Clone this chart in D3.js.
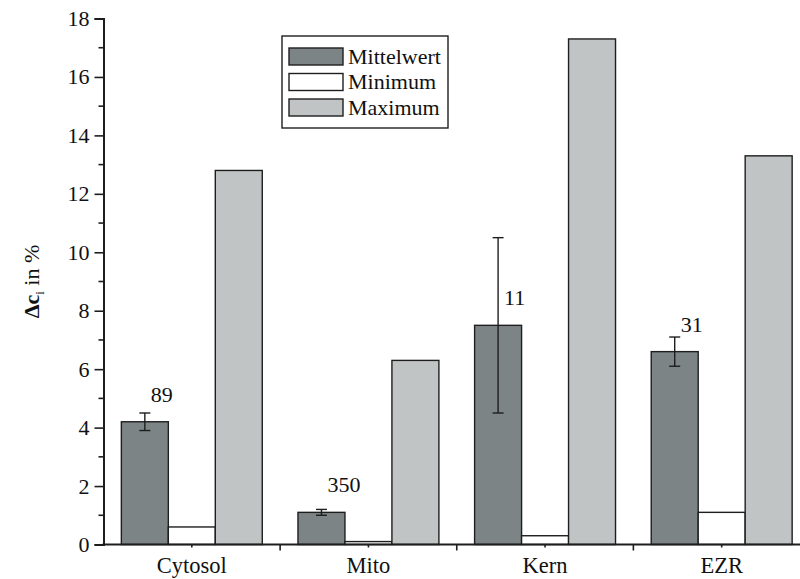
<!DOCTYPE html>
<html>
<head>
<meta charset="utf-8">
<script src="https://cdn.jsdelivr.net/npm/d3@7"></script>
</head>
<body style="margin:0">
<svg id="fig" width="800" height="579"></svg>
<script>
// Compartments and the three statistics shown for each
const categories = ["Cytosol", "Mito", "Kern", "EZR"];
const seriesNames = ["Mittelwert", "Minimum", "Maximum"];
const meanValues = [4.2, 1.1, 7.5, 6.6];
const meanErrors = [0.3, 0.1, 3.0, 0.5];
const minValues = [0.6, 0.1, 0.3, 1.1];
const maxValues = [12.8, 6.3, 17.3, 13.3];
const sampleCounts = ["89", "350", "11", "31"];
const yTicks = [0, 2, 4, 6, 8, 10, 12, 14, 16, 18];

const seriesColors = { "Mittelwert": "#7d8485", "Minimum": "#ffffff", "Maximum": "#c1c4c5" };
const stroke = "#1e1e1e";
const serif = t => t.style("font-family", '"Liberation Serif", "Times New Roman", Tinos', "important");

const svg = d3.select("#fig");
const x0 = 103.5, yTop = 18.5, yBottom = 544.5;

const y = d3.scaleLinear().domain([0, 18]).range([yBottom, yTop]);
const x = d3.scaleBand().domain(categories).range([x0, 810]).padding(0);
const xs = d3.scaleBand().domain(seriesNames).range([0, x.bandwidth()])
  .paddingInner(0).paddingOuter(0.38);

const rows = categories.map((c, i) => ({
  cat: c,
  values: { "Mittelwert": meanValues[i], "Minimum": minValues[i], "Maximum": maxValues[i] },
  err: meanErrors[i],
  n: sampleCounts[i]
}));

// bars
const groups = svg.append("g").selectAll("g").data(rows).join("g")
  .attr("transform", d => `translate(${x(d.cat)},0)`);

groups.selectAll("rect").data(d => seriesNames.map(s => ({ s, v: d.values[s] }))).join("rect")
  .attr("x", d => xs(d.s))
  .attr("y", d => y(d.v))
  .attr("width", xs.bandwidth())
  .attr("height", d => y(0) - y(d.v))
  .attr("fill", d => seriesColors[d.s])
  .attr("stroke", stroke)
  .attr("stroke-width", 1.4);

// error bars on the mean
const cx = xs("Mittelwert") + xs.bandwidth() / 2;
const cap = 5.5;
const eb = groups.append("g").attr("stroke", stroke).attr("stroke-width", 1.4);
eb.append("line").attr("x1", cx).attr("x2", cx)
  .attr("y1", d => y(d.values["Mittelwert"] + d.err))
  .attr("y2", d => y(d.values["Mittelwert"] - d.err));
eb.append("line").attr("x1", cx - cap).attr("x2", cx + cap)
  .attr("y1", d => y(d.values["Mittelwert"] + d.err))
  .attr("y2", d => y(d.values["Mittelwert"] + d.err));
eb.append("line").attr("x1", cx - cap).attr("x2", cx + cap)
  .attr("y1", d => y(d.values["Mittelwert"] - d.err))
  .attr("y2", d => y(d.values["Mittelwert"] - d.err));

// sample counts
groups.append("text")
  .attr("x", cx + 6)
  .attr("y", d => y(d.values["Mittelwert"]) - 20)
  .attr("font-size", 22)
  .attr("fill", "#111")
  .call(serif)
  .text(d => d.n);

// y axis
const yAxis = d3.axisLeft(y).tickValues(yTicks).tickSize(9).tickPadding(5).tickFormat(d3.format("d"));
const gy = svg.append("g").attr("transform", `translate(${x0},0)`).call(yAxis);
gy.attr("font-family", null);
gy.select(".domain").attr("stroke", stroke).attr("stroke-width", 2);
gy.selectAll(".tick line").attr("stroke", stroke).attr("stroke-width", 1.6);
gy.selectAll(".tick text").attr("font-size", 22).attr("fill", "#111").call(serif);
// minor ticks
const minor = d3.range(1, 18, 2);
svg.append("g").selectAll("line").data(minor).join("line")
  .attr("x1", x0 - 5).attr("x2", x0)
  .attr("y1", d => y(d)).attr("y2", d => y(d))
  .attr("stroke", stroke).attr("stroke-width", 1.6);

// x axis
const gx = svg.append("g").attr("transform", `translate(0,${yBottom})`);
gx.append("line").attr("x1", x0 - 1).attr("x2", 810).attr("y1", 0).attr("y2", 0)
  .attr("stroke", stroke).attr("stroke-width", 2);
gx.selectAll("line.bound").data(categories.slice(1)).join("line").attr("class", "bound")
  .attr("x1", d => x(d)).attr("x2", d => x(d)).attr("y1", 0).attr("y2", 6)
  .attr("stroke", stroke).attr("stroke-width", 1.6);
gx.selectAll("line.mid").data(categories).join("line").attr("class", "mid")
  .attr("x1", d => x(d) + x.bandwidth() / 2).attr("x2", d => x(d) + x.bandwidth() / 2)
  .attr("y1", 0).attr("y2", 3)
  .attr("stroke", stroke).attr("stroke-width", 1.6);
gx.selectAll("text").data(categories).join("text")
  .attr("x", d => x(d) + x.bandwidth() / 2)
  .attr("y", 28)
  .attr("text-anchor", "middle")
  .attr("font-size", 22.5)
  .attr("fill", "#111")
  .call(serif)
  .text(d => d);

// y axis title
const yt = svg.append("text")
  .attr("transform", `translate(39,${(yTop + yBottom) / 2}) rotate(-90)`)
  .attr("text-anchor", "middle")
  .attr("font-size", 22)
  .attr("fill", "#111")
  .call(serif);
yt.append("tspan").attr("font-weight", "bold").call(serif).text("Δc");
yt.append("tspan").attr("font-size", 13).attr("dy", 5).call(serif).text("i");
yt.append("tspan").attr("dy", -5).call(serif).text(" in %");

// legend
const legend = svg.append("g");
legend.append("rect").attr("x", 282).attr("y", 36).attr("width", 166).attr("height", 92)
  .attr("fill", "#fff").attr("stroke", stroke).attr("stroke-width", 1.4);
const li = legend.selectAll("g").data(seriesNames).join("g")
  .attr("transform", (d, i) => `translate(289,${48 + i * 25.5})`);
li.append("rect").attr("width", 54).attr("height", 17)
  .attr("fill", d => seriesColors[d]).attr("stroke", stroke).attr("stroke-width", 1.4);
li.append("text").attr("x", 59).attr("y", 15.5)
  .attr("font-size", 22).attr("fill", "#111")
  .call(serif)
  .text(d => d);
</script>
</body>
</html>
